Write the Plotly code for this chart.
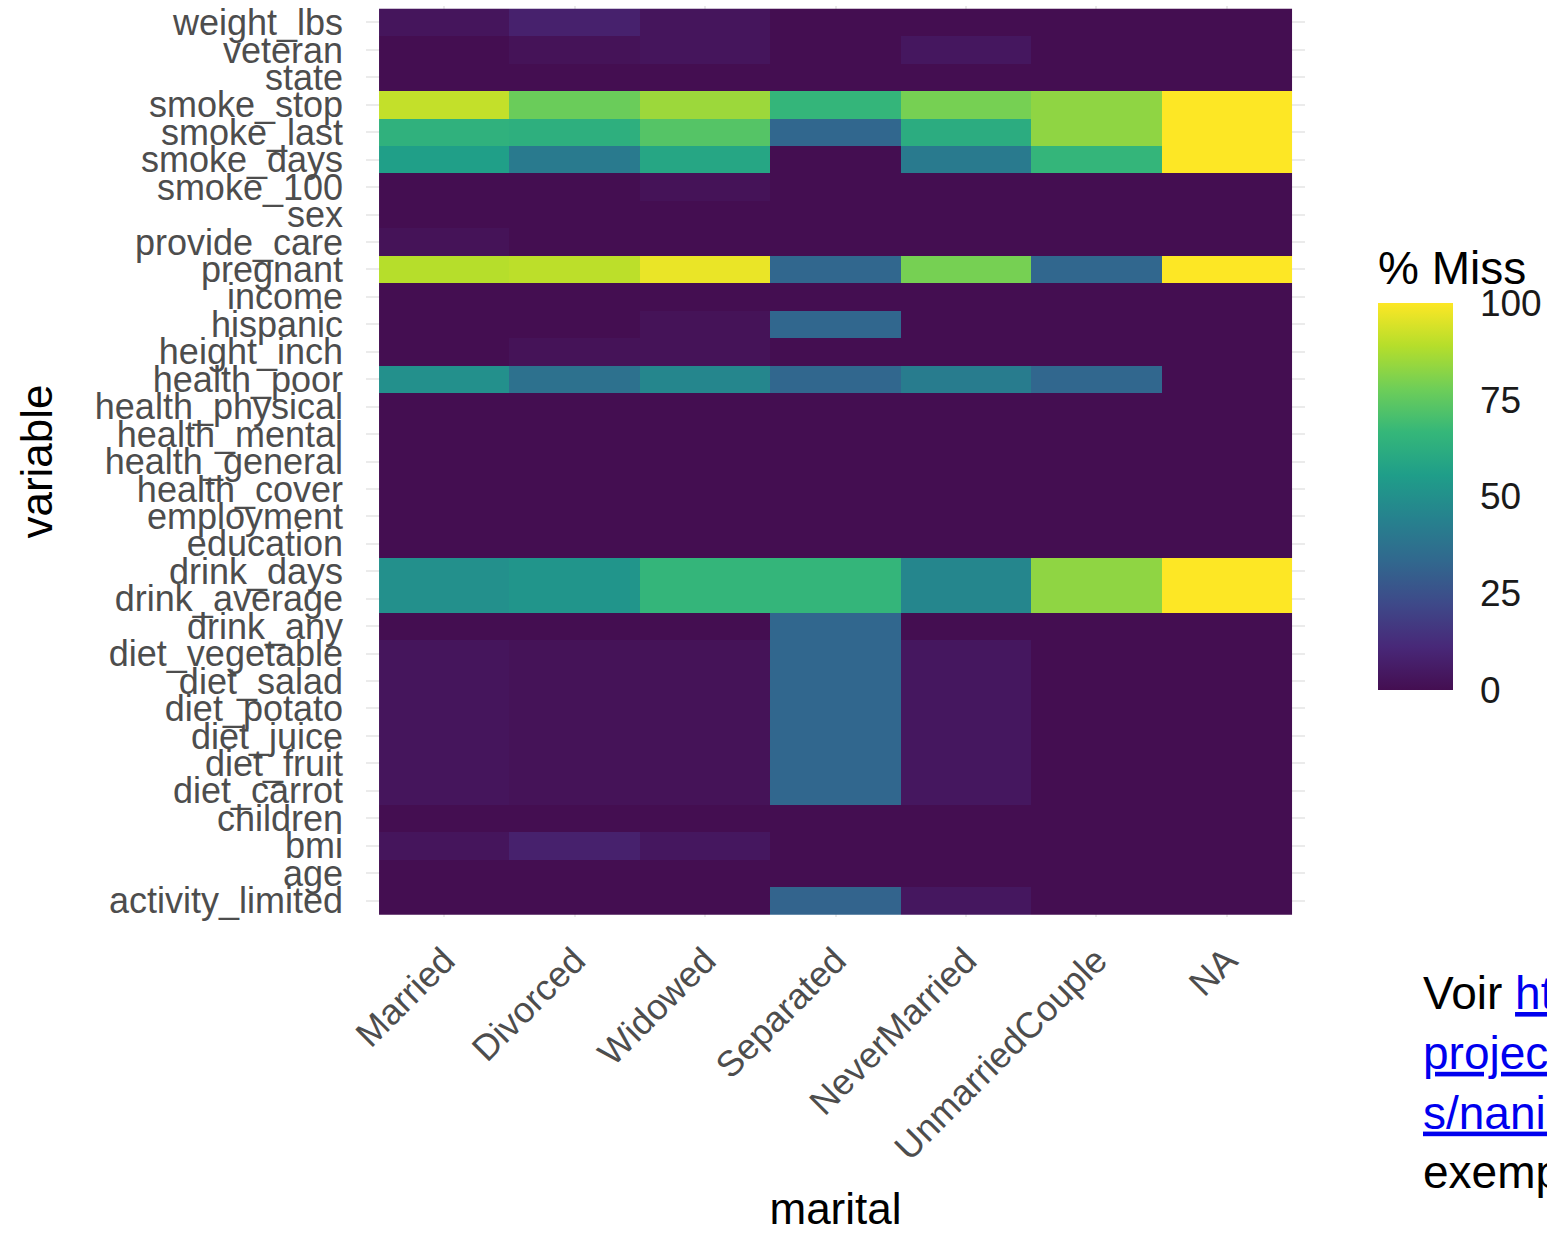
import plotly.graph_objects as go

# Categories
marital = ["Married", "Divorced", "Widowed", "Separated", "NeverMarried", "UnmarriedCouple", "NA"]
# variables, bottom (first) to top (last)
variables = ["activity_limited", "age", "bmi", "children", "diet_carrot", "diet_fruit",
             "diet_juice", "diet_potato", "diet_salad", "diet_vegetable", "drink_any",
             "drink_average", "drink_days", "education", "employment", "health_cover",
             "health_general", "health_mental", "health_physical", "health_poor",
             "height_inch", "hispanic", "income", "pregnant", "provide_care", "sex",
             "smoke_100", "smoke_days", "smoke_last", "smoke_stop", "state", "veteran",
             "weight_lbs"]

# % missing per marital group (same order as variables)
pct_married = [0, 0, 3, 0, 3, 3, 3, 3, 3, 3, 0, 50, 50, 0, 0, 0, 0, 0, 0, 50, 0, 0, 0, 89, 2, 0, 0, 56, 64, 91, 0, 0, 3]
pct_divorced = [0, 0, 8, 0, 2, 2, 2, 2, 2, 2, 0, 52, 52, 0, 0, 0, 0, 0, 0, 37, 2, 0, 0, 90, 0, 0, 0, 41, 63, 77, 0, 2, 8]
pct_widowed = [0, 0, 4, 0, 2, 2, 2, 2, 2, 2, 0, 66, 66, 0, 0, 0, 0, 0, 0, 46, 2, 2, 0, 97, 0, 0, 2, 59, 73, 85, 0, 3, 3]
pct_separated = [32, 0, 0, 0, 33, 33, 33, 33, 33, 33, 33, 66, 66, 0, 0, 0, 0, 0, 0, 33, 0, 33, 0, 33, 0, 0, 0, 0, 33, 66, 0, 0, 0]
pct_nevermarried = [4, 0, 0, 0, 4, 4, 4, 4, 4, 4, 0, 46, 46, 0, 0, 0, 0, 0, 0, 42, 0, 0, 0, 79, 0, 0, 0, 41, 62, 79, 0, 4, 0]
pct_unmarriedcouple = [0, 0, 0, 0, 0, 0, 0, 0, 0, 0, 0, 83, 83, 0, 0, 0, 0, 0, 0, 33, 0, 0, 0, 33, 0, 0, 0, 66, 83, 83, 0, 0, 0]
pct_na = [0, 0, 0, 0, 0, 0, 0, 0, 0, 0, 0, 100, 100, 0, 0, 0, 0, 0, 0, 0, 0, 0, 0, 100, 0, 0, 0, 100, 100, 100, 0, 0, 0]

colorbar_ticks = [0, 25, 50, 75, 100]

columns = [pct_married, pct_divorced, pct_widowed, pct_separated,
           pct_nevermarried, pct_unmarriedcouple, pct_na]
z = [[col[i] for col in columns] for i in range(len(variables))]

W, H = 1547, 1233
L, R, T, B = 366, 242, 6, 316
PW, PH = W - L - R, H - T - B

FONT = "Liberation Sans, Arial, Helvetica, sans-serif"
GREY = "#4D4D4D"

viridis = [[0.0, "#440E51"], [0.111, "#482878"], [0.222, "#3e4989"], [0.333, "#31688e"],
           [0.444, "#26828e"], [0.556, "#1f9e89"], [0.667, "#35b779"], [0.778, "#6ece58"],
           [0.889, "#b5de2b"], [1.0, "#fde725"]]

fig = go.Figure(go.Heatmap(
    x=marital, y=variables, z=z,
    zmin=0, zmax=100, colorscale=viridis,
    xgap=0, ygap=0,
    colorbar=dict(
        title=dict(text="% Miss", side="top", font=dict(size=46, color="black", family=FONT)),
        thickness=75, thicknessmode="pixels",
        len=444, lenmode="pixels",
        x=(1378 - L) / PW, xanchor="left", xpad=0,
        y=1 - (246 - T) / PH, yanchor="top", ypad=0,
        outlinewidth=0,
        tickvals=colorbar_ticks,
        ticks="outside", ticklen=20, tickcolor="white", tickwidth=1,
        tickfont=dict(size=37, color="#1A1A1A", family=FONT),
    ),
))

fig.update_layout(
    width=W, height=H,
    margin=dict(l=L, r=R, t=T, b=B, autoexpand=False),
    paper_bgcolor="white", plot_bgcolor="white",
    font=dict(family=FONT),
    xaxis=dict(
        type="category", categoryorder="array", categoryarray=marital,
        range=[-0.6, len(marital) - 0.4],
        tickmode="array", tickvals=marital,
        showgrid=True, gridcolor="#EBEBEB", gridwidth=2,
        zeroline=False, showline=False, ticks="",
        tickangle=-45, tickfont=dict(size=36, color=GREY, family=FONT),
        ticklabelstandoff=14,
        title=dict(text="marital", font=dict(size=44, color="black", family=FONT), standoff=37),
        automargin=False,
    ),
    yaxis=dict(
        type="category", categoryorder="array", categoryarray=variables,
        range=[-0.6, len(variables) - 0.4],
        tickmode="array", tickvals=variables,
        showgrid=True, gridcolor="#EBEBEB", gridwidth=2,
        zeroline=False, showline=False, ticks="",
        tickfont=dict(size=36, color=GREY, family=FONT),
        ticklabelstandoff=22,
        title=dict(text="variable", font=dict(size=44, color="black", family=FONT), standoff=28),
        automargin=False,
    ),
)

link = "color:#0000EE;text-decoration:underline"
note = ("Voir <span style='%s'>https://cran.r-</span><br>"
        "<span style='%s'>project.org/web/package</span><br>"
        "<span style='%s'>s/naniar/vignettes/getting-started-w-naniar.html</span> pour des<br>"
        "exemples") % (link, link, link)

fig.add_annotation(
    text=note, xref="paper", yref="paper",
    x=(1421 - L) / PW, y=1 - (965 - T) / PH,
    xanchor="left", yanchor="top", align="left", showarrow=False,
    font=dict(size=46, color="black", family=FONT),
)

fig.write_html("out.html", config={"displayModeBar": False},
               post_script="document.body.style.margin='0';document.body.style.overflow='hidden';")
